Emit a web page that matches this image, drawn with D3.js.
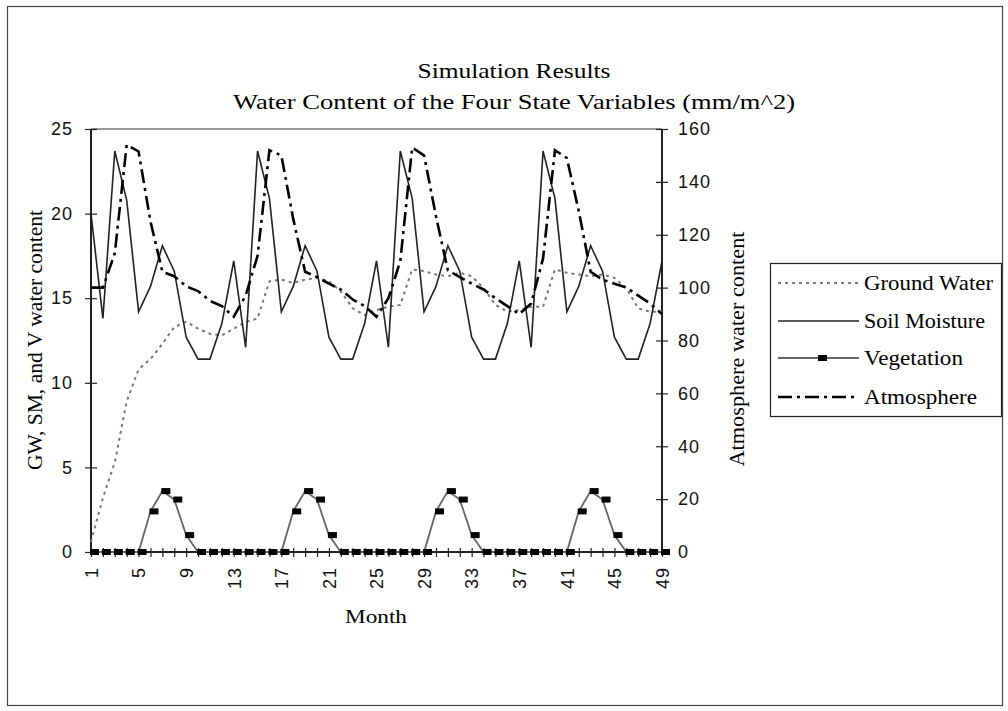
<!DOCTYPE html>
<html>
<head>
<meta charset="utf-8">
<script src="https://cdn.jsdelivr.net/npm/d3@7/dist/d3.min.js"></script>
<style>
  html, body { margin: 0; padding: 0; background: #fff; }
  svg { display: block; }
</style>
</head>
<body>
<script>
// ---------- data ----------
const months = [1,2,3,4,5,6,7,8,9,10,11,12,13,14,15,16,17,18,19,20,21,22,23,24,25,
  26,27,28,29,30,31,32,33,34,35,36,37,38,39,40,41,42,43,44,45,46,47,48,49];
const xTickLabels = [1,5,9,13,17,21,25,29,33,37,41,45,49];
const leftTicks = [0,5,10,15,20,25];
const rightTicks = [0,20,40,60,80,100,120,140,160];

const groundWater = [0.6,3.2,5.3,8.9,10.8,11.4,12.3,13.3,13.6,13.2,12.9,12.8,13.2,13.6,13.8,
  16.0,16.1,15.9,16.1,16.2,16.0,15.4,14.4,14.0,14.3,14.5,14.6,
  16.7,16.6,16.4,16.3,16.5,16.3,15.6,14.6,14.2,14.3,14.5,14.5,
  16.7,16.5,16.4,16.3,16.4,16.2,15.6,14.4,14.2,14.2];
const soilMoisture = [20.0,13.8,23.7,20.8,14.2,15.7,18.1,16.6,12.7,11.4,11.4,13.5,
  17.2,12.1,23.7,20.9,14.2,15.7,18.1,16.6,12.7,11.4,11.4,13.5,
  17.2,12.1,23.7,20.9,14.2,15.7,18.1,16.6,12.7,11.4,11.4,13.5,
  17.2,12.1,23.7,20.9,14.2,15.7,18.1,16.6,12.7,11.4,11.4,13.5,17.2];
const vegetation = [0,0,0,0,0,2.4,3.6,3.1,1.0,0,0,0,
  0,0,0,0,0,2.4,3.6,3.1,1.0,0,0,0,
  0,0,0,0,0,2.4,3.6,3.1,1.0,0,0,0,
  0,0,0,0,0,2.4,3.6,3.1,1.0,0,0,0,0];
const atmosphere = [100,100,113,154,151.5,125,106,104.3,100.5,98.7,95,93,
  89,97,112,152,150,126,106,104,101.5,99.3,95.5,93,
  89,96,110,153,150,127,106.5,104,101.5,99.3,96,93,
  90,94,111,152,149,129,106,103,101.5,100,97,94,90];

const titleLines = ["Simulation Results", "Water Content of the Four State Variables (mm/m^2)"];
const legendNames = ["Ground Water", "Soil Moisture", "Vegetation", "Atmosphere"];

// ---------- layout ----------
const W = 1008, H = 711;
const plot = {left: 91, right: 662, top: 129, bottom: 552};
const serif = "'Liberation Serif', 'Times New Roman', serif";
const sans = "'Liberation Sans', Arial, sans-serif";

const svg = d3.select("body").append("svg").attr("width", W).attr("height", H);

// outer chart border
svg.append("rect").attr("x", 7.5).attr("y", 6.5).attr("width", 995).attr("height", 699)
  .attr("fill", "#fff").attr("stroke", "#444").attr("stroke-width", 1.2);

const x = d3.scalePoint().domain(months).range([plot.left, plot.right]).padding(0);
const yL = d3.scaleLinear().domain([0, 25]).range([plot.bottom, plot.top]);
const yR = d3.scaleLinear().domain([0, 160]).range([plot.bottom, plot.top]);

// plot area border (grey top)
svg.append("line").attr("x1", plot.left).attr("x2", plot.right)
  .attr("y1", plot.top).attr("y2", plot.top).attr("stroke", "#999").attr("stroke-width", 2);

// title
svg.append("text").attr("x", 514).attr("y", 78).attr("text-anchor", "middle")
  .style("font-family", serif).style("font-size", "21px")
  .attr("textLength", 193).attr("lengthAdjust", "spacingAndGlyphs").text(titleLines[0]);
svg.append("text").attr("x", 514).attr("y", 109).attr("text-anchor", "middle")
  .style("font-family", serif).style("font-size", "21px")
  .attr("textLength", 562).attr("lengthAdjust", "spacingAndGlyphs").text(titleLines[1]);

// axes
const axL = svg.append("g").attr("transform", `translate(${plot.left},0)`)
  .call(d3.axisLeft(yL).tickValues(leftTicks).tickSize(6).tickPadding(12).tickFormat(d3.format("d")));
const axR = svg.append("g").attr("transform", `translate(${plot.right},0)`)
  .call(d3.axisRight(yR).tickValues(rightTicks).tickSize(6).tickPadding(12).tickFormat(d3.format("d")));
const axB = svg.append("g").attr("transform", `translate(0,${plot.bottom})`)
  .call(d3.axisBottom(x).tickSize(5).tickFormat(d => xTickLabels.includes(d) ? d : ""));

[axL, axR, axB].forEach(a => {
  a.select(".domain").attr("stroke", "#222").attr("stroke-width", 2);
  a.selectAll(".tick line").attr("stroke", "#222").attr("stroke-width", 1.2);
  a.selectAll("text").style("font-family", sans).style("font-size", "18px").attr("fill", "#111");
});
axL.selectAll(".tick line").attr("x1", 6);
axR.selectAll(".tick line").attr("x1", -6);
axB.selectAll(".tick line").attr("y1", -4);
axB.select(".domain").attr("d", `M${plot.left},0H${plot.right}`);
axL.select(".domain").attr("d", `M0,${plot.bottom}V${plot.top}`);
axR.select(".domain").attr("d", `M0,${plot.bottom}V${plot.top}`);
axL.selectAll("text").attr("x", -18).style("letter-spacing", "1px");
axR.selectAll("text").attr("x", 16).style("letter-spacing", "1px");
axB.selectAll("text")
  .attr("transform", "rotate(-90)")
  .attr("x", -15).attr("y", 0).attr("dy", "0.35em")
  .attr("text-anchor", "end").style("letter-spacing", "1px");

// axis titles
svg.append("text").attr("transform", "translate(42,340) rotate(-90)").attr("text-anchor", "middle")
  .style("font-family", serif).style("font-size", "20px")
  .attr("textLength", 260).attr("lengthAdjust", "spacingAndGlyphs").text("GW, SM, and V water content");
svg.append("text").attr("transform", "translate(744,349) rotate(-90)").attr("text-anchor", "middle")
  .style("font-family", serif).style("font-size", "20px")
  .attr("textLength", 235).attr("lengthAdjust", "spacingAndGlyphs").text("Atmosphere water content");
svg.append("text").attr("x", 376).attr("y", 623).attr("text-anchor", "middle")
  .style("font-family", serif).style("font-size", "19px")
  .attr("textLength", 62).attr("lengthAdjust", "spacingAndGlyphs").text("Month");

// series styles
const styles = {
  gw: {stroke: "#777", width: 2, dash: "3,4"},
  sm: {stroke: "#222", width: 1.6, dash: null},
  veg: {stroke: "#666", width: 1.8, dash: null},
  atm: {stroke: "#000", width: 2.6, dash: "14,5,3,5"}
};

function drawLine(values, yScale, st) {
  const line = d3.line().x((d, i) => x(months[i])).y(d => yScale(d));
  svg.append("path").datum(values).attr("d", line).attr("fill", "none")
    .attr("stroke", st.stroke).attr("stroke-width", st.width)
    .attr("stroke-dasharray", st.dash).attr("stroke-linejoin", "miter");
}
drawLine(groundWater, yL, styles.gw);
drawLine(soilMoisture, yL, styles.sm);
drawLine(atmosphere, yR, styles.atm);
drawLine(vegetation, yL, styles.veg);

// vegetation markers
svg.append("g").selectAll("rect").data(vegetation).join("rect")
  .attr("x", (d, i) => x(months[i]) - 1)
  .attr("y", d => yL(d) - 3)
  .attr("width", 9).attr("height", 6).attr("fill", "#000");

// legend
const lg = svg.append("g");
lg.append("rect").attr("x", 770.5).attr("y", 263.5).attr("width", 231).attr("height", 153)
  .attr("fill", "#fff").attr("stroke", "#222").attr("stroke-width", 1.2);
const legendStyles = [styles.gw, styles.sm, styles.veg, styles.atm];
const legendWidths = [129, 121, 99, 113];
const legendY = [283, 321, 358, 397];
legendNames.forEach((name, k) => {
  const st = legendStyles[k];
  lg.append("line").attr("x1", 778).attr("x2", 859).attr("y1", legendY[k]).attr("y2", legendY[k])
    .attr("stroke", st.stroke).attr("stroke-width", st.width).attr("stroke-dasharray", st.dash);
  if (k === 2) {
    lg.append("rect").attr("x", 818).attr("y", legendY[k] - 3).attr("width", 9).attr("height", 6).attr("fill", "#000");
  }
  lg.append("text").attr("x", 864).attr("y", legendY[k]).attr("dy", "0.35em")
    .style("font-family", serif).style("font-size", "21px")
    .attr("textLength", legendWidths[k]).attr("lengthAdjust", "spacingAndGlyphs").text(name);
});
</script>
</body>
</html>
